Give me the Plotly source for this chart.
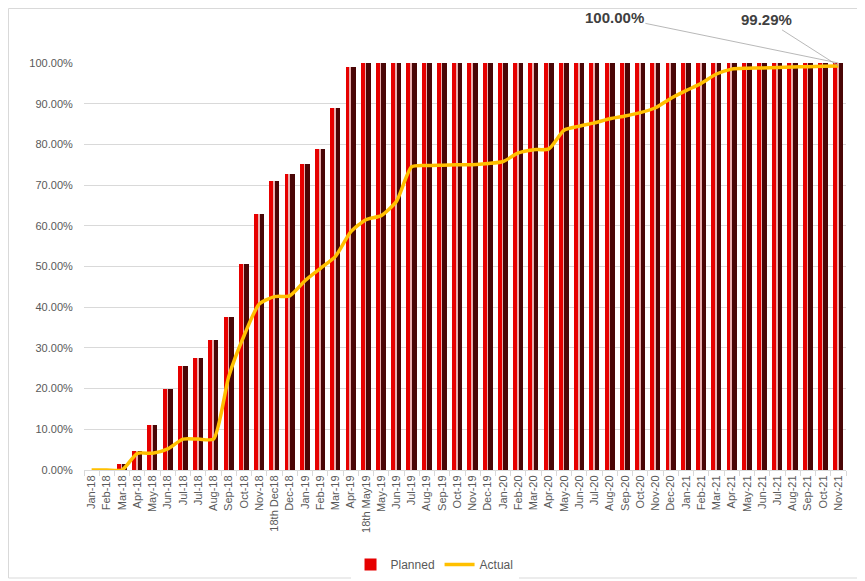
import plotly.graph_objects as go

categories = ["Jan-18", "Feb-18", "Mar-18", "Apr-18", "May-18", "Jun-18", "Jul-18", "Jul-18",
              "Aug-18", "Sep-18", "Oct-18", "Nov-18", "18th Dec18", "Dec-18", "Jan-19", "Feb-19",
              "Mar-19", "Apr-19", "18th May19", "May-19", "Jun-19", "Jul-19", "Aug-19", "Sep-19",
              "Oct-19", "Nov-19", "Dec-19", "Jan-20", "Feb-20", "Mar-20", "Apr-20", "May-20",
              "Jun-20", "Jul-20", "Aug-20", "Sep-20", "Oct-20", "Nov-20", "Dec-20", "Jan-21",
              "Feb-21", "Mar-21", "Apr-21", "May-21", "Jun-21", "Jul-21", "Aug-21", "Sep-21",
              "Oct-21", "Nov-21"]

planned = [0, 0, 1.5, 4.7, 11.1, 19.9, 25.6, 27.5, 32.0, 37.7, 50.5, 63.0, 70.9, 72.8, 75.2,
           78.8, 88.9, 99.0] + [100.0] * 32

actual = [0, 0, 0, 4.1, 4.1, 5.2, 7.6, 7.6, 7.6, 23.0, 33.0, 40.8, 42.6, 42.8, 46.5, 49.5,
          52.5, 58.5, 61.5, 62.5, 66.0, 74.5, 74.8, 74.9, 75.0, 75.0, 75.3, 75.8, 77.9, 78.7,
          78.9, 83.5, 84.5, 85.3, 86.3, 87.0, 87.8, 89.0, 91.3, 93.2, 95.0, 97.3, 98.5, 98.7,
          98.8, 98.9, 99.0, 99.1, 99.2, 99.29]

x = list(range(len(categories)))
pl = [v / 100 for v in planned]
ac = [v / 100 for v in actual]

fig = go.Figure()
# front red face
fig.add_trace(go.Bar(x=x, y=pl, name="Planned", width=0.32, offset=-0.34,
                     marker=dict(color="#E60000", line=dict(width=0)), showlegend=True,
                     hoverinfo="skip"))
# highlight stripe
fig.add_trace(go.Bar(x=x, y=pl, name="Planned", width=0.07, offset=-0.05,
                     marker=dict(color="#E9B0B0", line=dict(width=0)), showlegend=False,
                     hoverinfo="skip"))
# dark side
fig.add_trace(go.Bar(x=x, y=pl, name="Planned", width=0.3, offset=0.02,
                     marker=dict(color="#4A0606", line=dict(width=0)), showlegend=False,
                     hoverinfo="skip"))
fig.add_trace(go.Scatter(x=x, y=ac, name="Actual", mode="lines",
                         line=dict(color="#FFC000", width=3.5, shape="spline", smoothing=0.6),
                         cliponaxis=False))

fig.add_annotation(x=49, y=planned[-1] / 100, xref="x", yref="y", text="<b>100.00%</b>",
                   showarrow=True, arrowhead=0, arrowwidth=0.8, arrowcolor="#A6A6A6",
                   ax=-224, ay=-46, font=dict(size=15, color="#404040", family="Liberation Sans"))
fig.add_annotation(x=49, y=actual[-1] / 100, xref="x", yref="y", text="<b>99.29%</b>",
                   showarrow=True, arrowhead=0, arrowwidth=0.8, arrowcolor="#A6A6A6",
                   ax=-72, ay=-46, font=dict(size=15, color="#404040", family="Liberation Sans"))

# chart border
fig.add_shape(type="rect", xref="paper", yref="paper",
              x0=-75.5 / 762, x1=776 / 762, y0=-108 / 407, y1=(407 + 54.5) / 407,
              line=dict(color="#D9D9D9", width=1), fillcolor="rgba(0,0,0,0)")

fig.update_layout(
    width=857, height=573,
    margin=dict(l=76, r=19, t=55, b=111, autoexpand=False),
    barmode="overlay",
    bargap=0,
    plot_bgcolor="white", paper_bgcolor="white",
    font=dict(family="Liberation Sans", size=11, color="#595959"),
    legend=dict(orientation="h", x=0.46, xanchor="center", y=-0.232, yanchor="middle",
                font=dict(size=12, color="#595959"), traceorder="normal"),
    xaxis=dict(range=[-0.5, len(categories) - 0.5], tickmode="array", tickvals=x,
               ticktext=categories, tickangle=-90, ticks="", showgrid=False, automargin=False,
               showline=True, linecolor="#D9D9D9", linewidth=1,
               tickfont=dict(size=11, color="#595959"),
               minor=dict(tickmode="array", tickvals=[i - 0.5 for i in x] + [len(x) - 0.5],
                          ticks="outside", ticklen=5, tickcolor="#D9D9D9", showgrid=False)),
    yaxis=dict(range=[0, 1], tickmode="linear", tick0=0, dtick=0.1, tickformat=".2%",
               showgrid=True, gridcolor="#D9D9D9", gridwidth=1, zeroline=False, automargin=False,
               showline=False, ticks="outside", ticklen=8, tickcolor="rgba(0,0,0,0)",
               tickfont=dict(size=11, color="#595959")),
)

fig.write_html("out.html")
